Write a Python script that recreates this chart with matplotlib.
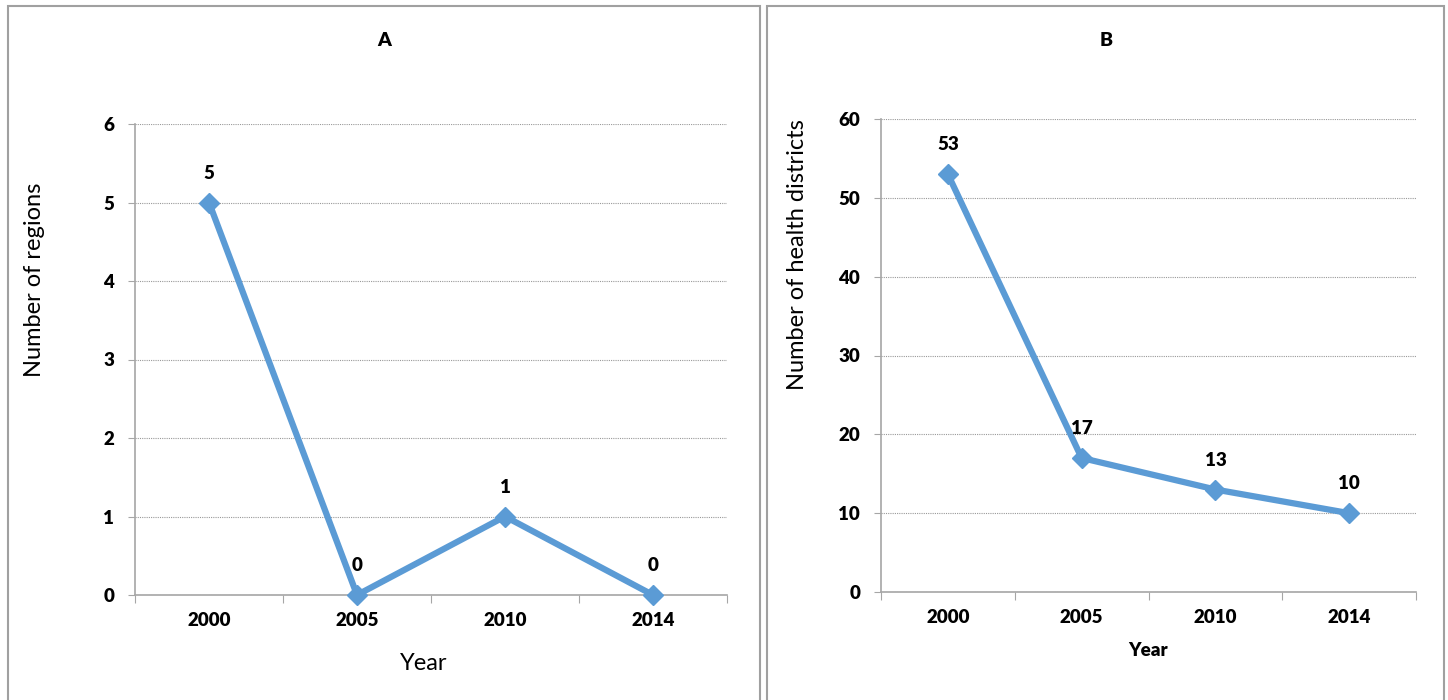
import matplotlib.pyplot as plt
from matplotlib.patches import Rectangle

years = ['2000', '2005', '2010', '2014']
regions = [5, 0, 1, 0]
districts = [53, 17, 13, 10]

line_col = '#5B9BD5'
grey = '#A6A6A6'
bold = 'heavy'

plt.rcParams['font.family'] = ['Lato', 'DejaVu Sans']

fig = plt.figure(figsize=(14.48, 7), dpi=100)

# panel frames
fig.patches.append(Rectangle((8 / 1448, -0.05), 752 / 1448, 1.05 - 6 / 700,
                             transform=fig.transFigure, fill=False,
                             edgecolor='#A0A0A0', linewidth=1.5))
fig.patches.append(Rectangle((767 / 1448, -0.05), 677 / 1448, 1.05 - 6 / 700,
                             transform=fig.transFigure, fill=False,
                             edgecolor='#A0A0A0', linewidth=1.5))


def panel(rect, vals, ymax, ystep):
    ax = fig.add_axes(rect)
    x = list(range(len(years)))
    ax.plot(x, vals, color=line_col, linewidth=4.5, marker='D', markersize=10,
            markeredgecolor=line_col, zorder=3, clip_on=False)
    ax.set_xlim(-0.5, len(years) - 0.5)
    ax.set_ylim(0, ymax)
    ax.set_yticks(range(0, ymax + 1, ystep))
    ax.yaxis.grid(True, color='#999999', linestyle=(0, (1, 1)), linewidth=0.8)
    ax.set_axisbelow(True)
    for s in ['top', 'right']:
        ax.spines[s].set_visible(False)
    for s in ['left', 'bottom']:
        ax.spines[s].set_color(grey)
        ax.spines[s].set_linewidth(1.2)
    ax.set_xticks([i - 0.5 for i in range(len(years) + 1)])
    ax.set_xticklabels([])
    ax.set_xticks(x, minor=True)
    ax.set_xticklabels(years, minor=True, fontsize=13.5, fontweight=bold)
    ax.tick_params(axis='x', which='major', length=6, color=grey, direction='out')
    ax.tick_params(axis='x', which='minor', length=0, pad=12)
    ax.tick_params(axis='y', length=5, color=grey, labelsize=13.5, pad=10)
    for lab in ax.get_yticklabels():
        lab.set_fontweight(bold)
    for i, v in enumerate(vals):
        ax.annotate(str(v), (i, v), xytext=(0, 15), textcoords='offset points',
                    ha='center', va='bottom', fontsize=13.5, fontweight=bold)
    return ax


axA = panel([135 / 1448, 105 / 700, 592 / 1448, 471 / 700], regions, 6, 1)
axB = panel([881 / 1448, 108 / 700, 535 / 1448, 473 / 700], districts, 60, 10)

fig.text(384 / 1448, 1 - 40 / 700, 'A', ha='center', va='center',
         fontsize=14, fontweight=bold)
fig.text(1106 / 1448, 1 - 40 / 700, 'B', ha='center', va='center',
         fontsize=14, fontweight=bold)
fig.text(35 / 1448, 1 - 280 / 700, 'Number of regions', rotation=90,
         ha='center', va='center', fontsize=17)
fig.text(798 / 1448, 1 - 255 / 700, 'Number of health districts', rotation=90,
         ha='center', va='center', fontsize=17)
fig.text(424 / 1448, 1 - 664 / 700, 'Year', ha='center', va='center',
         fontsize=17)
fig.text(1148 / 1448, 1 - 651 / 700, 'Year', ha='center', va='center',
         fontsize=13.5, fontweight=bold)

fig.savefig('out.png', dpi=100)
